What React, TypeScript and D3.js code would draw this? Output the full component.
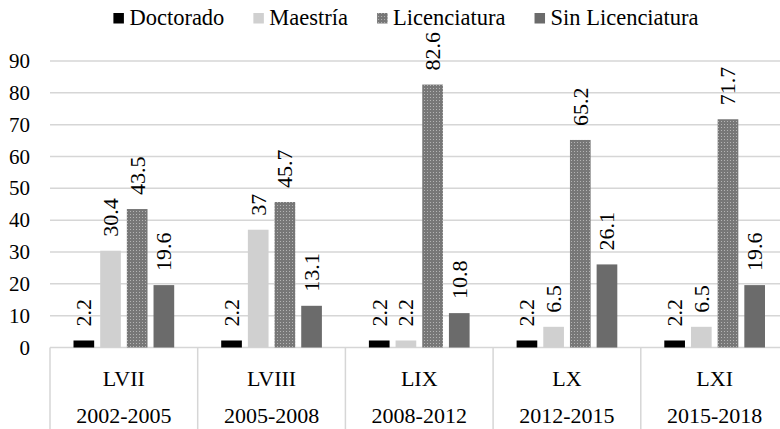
import React, { useEffect, useRef } from "react";
import * as d3 from "d3";

const categories = ["LVII", "LVIII", "LIX", "LX", "LXI"];
const periods = ["2002-2005", "2005-2008", "2008-2012", "2012-2015", "2015-2018"];
const seriesNames = ["Doctorado", "Maestría", "Licenciatura", "Sin Licenciatura"];
const doctorado = [2.2, 2.2, 2.2, 2.2, 2.2];
const maestria = [30.4, 37, 2.2, 6.5, 6.5];
const licenciatura = [43.5, 45.7, 82.6, 65.2, 71.7];
const sinLicenciatura = [19.6, 13.1, 10.8, 26.1, 19.6];
const yTicks = [0, 10, 20, 30, 40, 50, 60, 70, 80, 90];

const W = 780;
const H = 429;
const FONT = '"Liberation Serif", "Times New Roman", Times, serif';

export default function App() {
  const ref = useRef<SVGSVGElement | null>(null);

  useEffect(() => {
    const svg = d3.select(ref.current);
    svg.selectAll("*").remove();

    const values = [doctorado, maestria, licenciatura, sinLicenciatura];
    const fills = ["#000000", "#d0d0d0", "url(#dots)", "#6b6b6b"];

    const defs = svg.append("defs");
    const pat = defs
      .append("pattern")
      .attr("id", "dots")
      .attr("width", 3)
      .attr("height", 3)
      .attr("patternUnits", "userSpaceOnUse");
    pat.append("rect").attr("width", 3).attr("height", 3).attr("fill", "#777777");
    pat.append("rect").attr("x", 1).attr("y", 1).attr("width", 1).attr("height", 1).attr("fill", "#b4b4b4");

    const left = 50;
    const catW = 147.7;
    const x0 = d3
      .scaleBand<string>()
      .domain(categories)
      .range([left, left + catW * categories.length]);
    const x1 = d3
      .scaleBand<string>()
      .domain(seriesNames)
      .range([23.5, catW - 23.5])
      .paddingInner(0.225);
    const y = d3.scaleLinear().domain([0, 90]).range([347.5, 61]);

    const txt = (sel: any, size: number) =>
      sel.style("font-family", FONT).style("font-size", size + "px").attr("fill", "#000");

    // gridlines
    svg
      .append("g")
      .selectAll("line")
      .data(yTicks)
      .join("line")
      .attr("x1", left)
      .attr("x2", left + catW * categories.length)
      .attr("y1", (d) => y(d))
      .attr("y2", (d) => y(d))
      .attr("stroke", "#d6d6d6")
      .attr("stroke-width", 1.5);

    // y tick labels
    txt(
      svg
        .append("g")
        .selectAll("text")
        .data(yTicks)
        .join("text")
        .attr("x", 30)
        .attr("y", (d) => y(d) + 7)
        .attr("text-anchor", "end")
        .text((d) => String(d)),
      21
    );

    // category separators
    const seps = categories.map((c) => x0(c) as number).concat([left + catW * categories.length]);
    svg
      .append("g")
      .selectAll("line")
      .data(seps)
      .join("line")
      .attr("x1", (d) => d)
      .attr("x2", (d) => d)
      .attr("y1", y(0))
      .attr("y2", H)
      .attr("stroke", "#d6d6d6")
      .attr("stroke-width", 1.5);

    // bars
    seriesNames.forEach((s, si) => {
      const g = svg.append("g");
      g.selectAll("rect")
        .data(values[si])
        .join("rect")
        .attr("x", (_d, i) => (x0(categories[i]) as number) + (x1(s) as number))
        .attr("y", (d) => y(d))
        .attr("width", x1.bandwidth())
        .attr("height", (d) => y(0) - y(d))
        .attr("fill", fills[si]);
      txt(
        g
          .selectAll("text")
          .data(values[si])
          .join("text")
          .attr("transform", (d, i) => {
            const cx = (x0(categories[i]) as number) + (x1(s) as number) + x1.bandwidth() / 2 + 7.5;
            const cy = y(d) - 14;
            return `translate(${cx},${cy}) rotate(-90)`;
          })
          .attr("text-anchor", "start")
          .text((d) => String(d)),
        22
      );
    });

    // category labels
    const cl = svg.append("g");
    txt(
      cl
        .selectAll("text.cat")
        .data(categories)
        .join("text")
        .attr("class", "cat")
        .attr("x", (d) => (x0(d) as number) + x0.bandwidth() / 2)
        .attr("y", 386)
        .attr("text-anchor", "middle")
        .text((d) => d),
      22
    );
    txt(
      cl
        .selectAll("text.per")
        .data(periods)
        .join("text")
        .attr("class", "per")
        .attr("x", (_d, i) => (x0(categories[i]) as number) + x0.bandwidth() / 2)
        .attr("y", 423)
        .attr("text-anchor", "middle")
        .text((d) => d),
      22
    );

    // legend
    const lg = svg.append("g");
    const sq = 10.5;
    const gapSqText = 5.5;
    const itemGap = 29;
    const items = seriesNames.map((s, i) => {
      const g = lg.append("g");
      g.append("rect").attr("width", sq).attr("height", sq).attr("y", 13).attr("fill", fills[i]);
      const t = txt(g.append("text").attr("x", sq + gapSqText).attr("y", 25).text(s), 22.5);
      const w = (t.node() as SVGTextElement).getComputedTextLength();
      return { g, w: sq + gapSqText + w };
    });
    const total = items.reduce((a, b) => a + b.w, 0) + itemGap * (items.length - 1);
    let cx = 406 - total / 2;
    items.forEach((it) => {
      it.g.attr("transform", `translate(${cx},0)`);
      cx += it.w + itemGap;
    });
  }, []);

  return (
    <svg
      ref={ref}
      width={W}
      height={H}
      style={{
        position: "absolute",
        left: 0,
        top: 0,
        display: "block",
        background: "#fff",
        fontFamily: FONT,
      }}
    />
  );
}
